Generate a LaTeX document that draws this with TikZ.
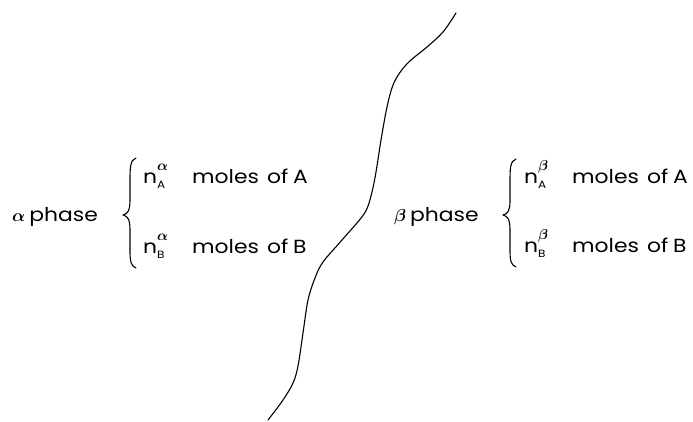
\documentclass[tikz,border=0pt]{standalone}
\usepackage{bm}
\usepackage{fontspec}
\setmainfont[FakeStretch=1.15]{Poppins}
\begin{document}
\begin{tikzpicture}[x=1pt,y=-1pt,
  lbl/.style={anchor=base west,inner sep=0pt,font=\fontsize{19}{22}\selectfont},
  ln/.style={line width=1.1pt,line cap=round,line join=round}]
\useasboundingbox (0,0) rectangle (693,421);
\newcommand\nsym[2]{n\rlap{\raisebox{-5pt}{\fontsize{10.5}{10.5}\selectfont #1}}\raisebox{13pt}{\fontsize{15}{15}\selectfont$\bm{#2}$}}
\newcommand\mtext[1]{moles\hspace{8pt}of\hspace{5pt}#1}
% boundary curve
\draw[ln] plot[smooth,tension=0.55] coordinates {(456,13) (443,32) (427,47) (411,60) (401,71) (393,85) (387,107) (381,140) (376,172) (371,196) (364,214) (342,240) (323,262) (315,278) (308,300) (303,333) (298,366) (293,383) (283,400) (268,420)};
% alpha side
\node[lbl] (ap) at (12,221) {$\bm{\alpha}$\hspace{4pt}phase};
\draw[ln] (136,158) .. controls (130,160) and (130,168) .. (130,182) -- (130,200) .. controls (130,210) and (128,214) .. (123,215) .. controls (128,216) and (130,220) .. (130,230) -- (130,250) .. controls (130,262) and (131,266) .. (136,268);
\node[lbl] (aA) at (143,183) {\nsym{A}{\alpha}};
\node[lbl] (aAt) at (192,183) {\mtext{A}};
\node[lbl] (aB) at (143,253) {\nsym{B}{\alpha}};
\node[lbl] (aBt) at (192,253) {\mtext{B}};
% beta side
\node[lbl] (bp) at (394,221) {$\bm{\beta}$\hspace{4pt}phase};
\draw[ln] (516,159) .. controls (510,161) and (510,169) .. (510,183) -- (510,201) .. controls (510,210) and (508,214) .. (503,215) .. controls (508,216) and (510,220) .. (510,230) -- (510,250) .. controls (510,261) and (511,265) .. (516,267);
\node[lbl] (bA) at (524,183) {\nsym{A}{\beta}};
\node[lbl] (bAt) at (572,183) {\mtext{A}};
\node[lbl] (bB) at (524,252) {\nsym{B}{\beta}};
\node[lbl] (bBt) at (572,252) {\mtext{B}};
\end{tikzpicture}
\end{document}
